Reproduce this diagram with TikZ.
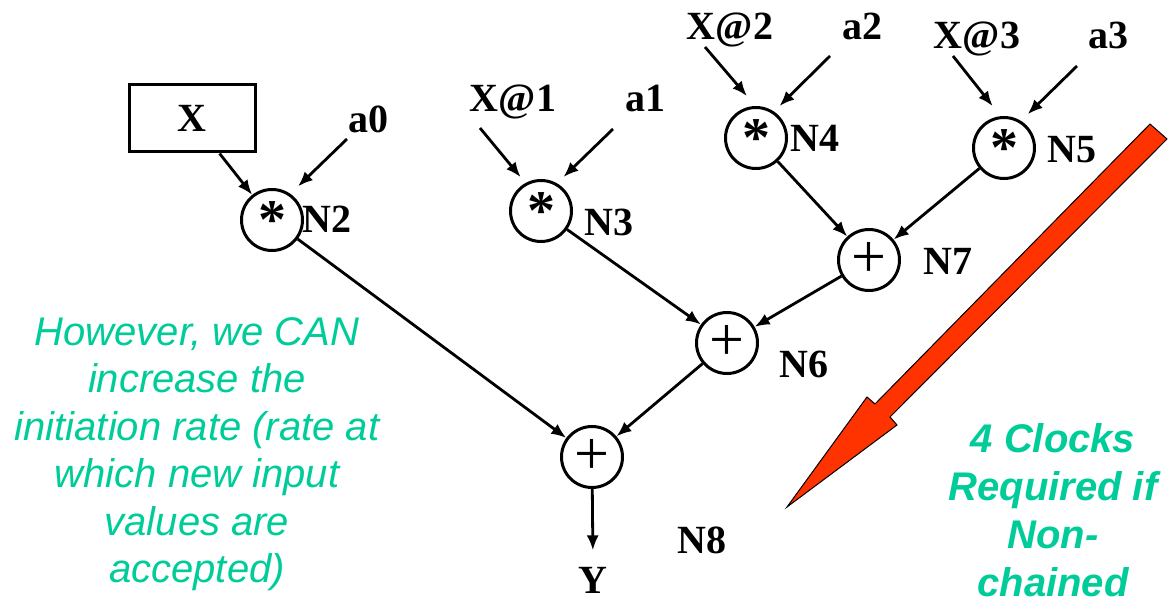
\documentclass[tikz,border=0pt]{standalone}
\usepackage{fontspec}
\setmainfont{Liberation Serif}
\newfontfamily\notefont{Liberation Sans}
\usetikzlibrary{arrows.meta}
\definecolor{notegreen}{HTML}{00CC99}
\definecolor{bigred}{HTML}{FF3300}
\begin{document}
\begin{tikzpicture}[x=0.5pt,y=-0.5pt,
  lab/.style={font=\fontsize{20}{24}\selectfont\bfseries, anchor=base, inner sep=0pt},
  op/.style={circle, draw, line width=1.5pt, minimum size=30.5pt, inner sep=0pt},
  mul/.style={op, font=\fontsize{28}{28}\selectfont\bfseries},
  add/.style={op, font=\fontsize{31}{31}\selectfont},
  conn/.style={line width=1.4pt, -{Latex[length=7.5pt,width=6pt]}},
  note/.style={text=notegreen, align=center, inner sep=0pt}]
\useasboundingbox (0,0) rectangle (1169,599);

% input box and labels
\node[draw, line width=1.5pt, minimum width=63pt, minimum height=33.5pt, inner sep=0pt,
      font=\fontsize{20}{24}\selectfont\bfseries] (xbox) at (192,118.5) {X};
\node[lab] (la0) at (368,133) {a0};
\node[lab] (lx1) at (513,112) {X@1};
\node[lab] (la1) at (645,112) {a1};
\node[lab] (lx2) at (730,40) {X@2};
\node[lab] (la2) at (862,40) {a2};
\node[lab] (lx3) at (977,49) {X@3};
\node[lab] (la3) at (1108,49) {a3};

% operator nodes
\node[mul] (n2) at (272,220) {*};
\node[mul] (n3) at (541,211) {*};
\node[mul] (n4) at (756,138) {*};
\node[mul] (n5) at (1004,148) {*};
\node[add] (n7) at (869,260) {+};
\node[add] (n6) at (727,343) {+};
\node[add] (n8) at (592,457) {+};

% node names
\node[lab] (t2) at (327,233) {N2};
\node[lab] (t3) at (609,235) {N3};
\node[lab] (t4) at (815,152) {N4};
\node[lab] (t5) at (1072,163) {N5};
\node[lab] (t7) at (948,275) {N7};
\node[lab] (t6) at (804,378) {N6};
\node[lab] (t8) at (702,553) {N8};
\node[lab] (yout) at (593,593) {Y};

% input arrow tails
\coordinate (ta0) at (347,139);
\coordinate (tx1) at (480,128);
\coordinate (ta1) at (613,129);
\coordinate (tx2) at (705,47);
\coordinate (ta2) at (830,56);
\coordinate (tx3) at (953,56);
\coordinate (ta3) at (1077,66);

% connectors
\draw[conn] (xbox) -- (n2);
\draw[conn, shorten >=5.3pt] (ta0) -- (n2.55);
\draw[conn, shorten >=3.8pt] (tx1) -- (n3.119);
\draw[conn, shorten >=4.5pt] (ta1) -- (n3.60);
\draw[conn, shorten >=6.5pt] (tx2) -- (n4.91);
\draw[conn, shorten >=3.9pt] (ta2) -- (n4.56);
\draw[conn, shorten >=6.4pt] (tx3) -- (n5.96);
\draw[conn, shorten >=4.7pt] (ta3) -- (n5.58);
\draw[conn] (n4) -- (n7);
\draw[conn] (n5) -- (n7);
\draw[conn] (n3) -- (n6);
\draw[conn] (n7) -- (n6);
\draw[conn] (n2) -- (n8);
\draw[conn] (n6) -- (n8);
\draw[conn, shorten >=8pt] (n8) -- (yout.north);

% big red arrow
\draw[fill=bigred, line width=0.5pt, line join=miter]
  (1150,124) -- (875,404) -- (867,397) -- (787,507) -- (897,425) -- (890,417) -- (1167,139) -- cycle;

% notes
\node[note, font=\notefont\fontsize{20}{23.75}\selectfont\itshape] (leftnote) at (197,454)
  {However, we CAN\\increase the\\initiation rate (rate at\\which new input\\values are\\accepted)};
\node[note, font=\notefont\fontsize{20}{24}\selectfont\bfseries\itshape] (rightnote) at (1053,510)
  {4 Clocks\\Required if\\Non-\\chained};
\end{tikzpicture}
\end{document}
